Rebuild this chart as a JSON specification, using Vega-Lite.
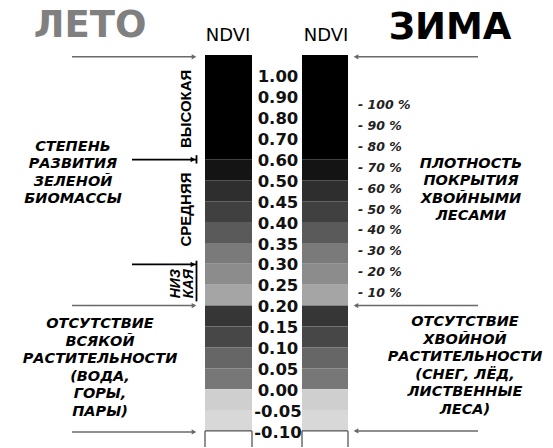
{
  "$schema": "https://vega.github.io/schema/vega-lite/v6.json",
  "width": 553,
  "height": 448,
  "autosize": {"type": "fit", "contains": "padding"},
  "padding": 0,
  "background": "white",
  "config": {"view": {"stroke": null}},
  "encoding": {
    "x": {"field": "x", "type": "quantitative", "scale": {"domain": [0, 553], "nice": false, "zero": false}, "axis": null},
    "y": {"field": "y", "type": "quantitative", "scale": {"domain": [-3.63, 17.77], "nice": false, "zero": false, "reverse": true}, "axis": null}
  },
  "layer": [
    {
      "data": {"values": [
        {"season": "ЛЕТО", "x": 205, "x2": 252, "y": -1.0, "y2": 4, "band": "≥0.60"},
        {"season": "ЛЕТО", "x": 205, "x2": 252, "y": 4, "y2": 5, "band": "0.60–0.50"},
        {"season": "ЛЕТО", "x": 205, "x2": 252, "y": 5, "y2": 6, "band": "0.50–0.45"},
        {"season": "ЛЕТО", "x": 205, "x2": 252, "y": 6, "y2": 7, "band": "0.45–0.40"},
        {"season": "ЛЕТО", "x": 205, "x2": 252, "y": 7, "y2": 8, "band": "0.40–0.35"},
        {"season": "ЛЕТО", "x": 205, "x2": 252, "y": 8, "y2": 9, "band": "0.35–0.30"},
        {"season": "ЛЕТО", "x": 205, "x2": 252, "y": 9, "y2": 10, "band": "0.30–0.25"},
        {"season": "ЛЕТО", "x": 205, "x2": 252, "y": 10, "y2": 11, "band": "0.25–0.20"},
        {"season": "ЛЕТО", "x": 205, "x2": 252, "y": 11, "y2": 12, "band": "0.20–0.15"},
        {"season": "ЛЕТО", "x": 205, "x2": 252, "y": 12, "y2": 13, "band": "0.15–0.10"},
        {"season": "ЛЕТО", "x": 205, "x2": 252, "y": 13, "y2": 14, "band": "0.10–0.05"},
        {"season": "ЛЕТО", "x": 205, "x2": 252, "y": 14, "y2": 15, "band": "0.05–0.00"},
        {"season": "ЛЕТО", "x": 205, "x2": 252, "y": 15, "y2": 16, "band": "0.00–-0.05"},
        {"season": "ЛЕТО", "x": 205, "x2": 252, "y": 16, "y2": 17, "band": "-0.05–-0.10"},
        {"season": "ЗИМА", "x": 302, "x2": 348, "y": -1.0, "y2": 4, "band": "≥0.60"},
        {"season": "ЗИМА", "x": 302, "x2": 348, "y": 4, "y2": 5, "band": "0.60–0.50"},
        {"season": "ЗИМА", "x": 302, "x2": 348, "y": 5, "y2": 6, "band": "0.50–0.45"},
        {"season": "ЗИМА", "x": 302, "x2": 348, "y": 6, "y2": 7, "band": "0.45–0.40"},
        {"season": "ЗИМА", "x": 302, "x2": 348, "y": 7, "y2": 8, "band": "0.40–0.35"},
        {"season": "ЗИМА", "x": 302, "x2": 348, "y": 8, "y2": 9, "band": "0.35–0.30"},
        {"season": "ЗИМА", "x": 302, "x2": 348, "y": 9, "y2": 10, "band": "0.30–0.25"},
        {"season": "ЗИМА", "x": 302, "x2": 348, "y": 10, "y2": 11, "band": "0.25–0.20"},
        {"season": "ЗИМА", "x": 302, "x2": 348, "y": 11, "y2": 12, "band": "0.20–0.15"},
        {"season": "ЗИМА", "x": 302, "x2": 348, "y": 12, "y2": 13, "band": "0.15–0.10"},
        {"season": "ЗИМА", "x": 302, "x2": 348, "y": 13, "y2": 14, "band": "0.10–0.05"},
        {"season": "ЗИМА", "x": 302, "x2": 348, "y": 14, "y2": 15, "band": "0.05–0.00"},
        {"season": "ЗИМА", "x": 302, "x2": 348, "y": 15, "y2": 16, "band": "0.00–-0.05"},
        {"season": "ЗИМА", "x": 302, "x2": 348, "y": 16, "y2": 17, "band": "-0.05–-0.10"}
      ]},
      "mark": {"type": "rect"},
      "encoding": {
        "x2": {"field": "x2"},
        "y2": {"field": "y2"},
        "color": {"field": "band", "type": "nominal", "legend": null,
          "scale": {
            "domain": ["≥0.60", "0.60–0.50", "0.50–0.45", "0.45–0.40", "0.40–0.35", "0.35–0.30", "0.30–0.25", "0.25–0.20", "0.20–0.15", "0.15–0.10", "0.10–0.05", "0.05–0.00", "0.00–-0.05", "-0.05–-0.10"],
            "range": ["#000000", "#141414", "#2e2e2e", "#404040", "#5a5a5a", "#7a7a7a", "#8c8c8c", "#a5a5a5", "#363636", "#474747", "#666666", "#777777", "#cfcfcf", "#d8d8d8"]
          }}
      }
    },
    {
      "data": {"values": [
        {"season": "ЛЕТО", "x": 205, "x2": 252, "y": 17, "y2": 17},
        {"season": "ЛЕТО", "x": 205, "x2": 205, "y": 17, "y2": 17.77},
        {"season": "ЛЕТО", "x": 252, "x2": 252, "y": 17, "y2": 17.77},
        {"season": "ЗИМА", "x": 302, "x2": 348, "y": 17, "y2": 17},
        {"season": "ЗИМА", "x": 302, "x2": 302, "y": 17, "y2": 17.77},
        {"season": "ЗИМА", "x": 348, "x2": 348, "y": 17, "y2": 17.77}
      ]},
      "mark": {"type": "rule", "color": "#555555", "strokeWidth": 1.3},
      "encoding": {"x2": {"field": "x2"}, "y2": {"field": "y2"}}
    },
    {
      "data": {"values": [
        {"x": 72, "x2": 195, "y": -0.91, "y2": -0.91},
        {"x": 478, "x2": 355, "y": -0.91, "y2": -0.91},
        {"x": 72, "x2": 195, "y": 11.0, "y2": 11.0},
        {"x": 478, "x2": 355, "y": 11.0, "y2": 11.0},
        {"x": 72, "x2": 195, "y": 17.05, "y2": 17.05},
        {"x": 478, "x2": 355, "y": 17.0, "y2": 17.0}
      ]},
      "mark": {"type": "rule", "color": "#6a6a6a", "strokeWidth": 1.5},
      "encoding": {"x2": {"field": "x2"}, "y2": {"field": "y2"}}
    },
    {
      "data": {"values": [
        {"x": 194, "y": -0.91, "dir": "right"},
        {"x": 356, "y": -0.91, "dir": "left"},
        {"x": 194, "y": 11.0, "dir": "right"},
        {"x": 356, "y": 11.0, "dir": "left"},
        {"x": 194, "y": 17.05, "dir": "right"},
        {"x": 356, "y": 17.0, "dir": "left"}
      ]},
      "mark": {"type": "point", "filled": true, "color": "#6a6a6a", "size": 28, "opacity": 1},
      "encoding": {"shape": {"field": "dir", "type": "nominal", "legend": null, "scale": {"domain": ["right", "left"], "range": ["triangle-right", "triangle-left"]}}}
    },
    {
      "data": {"values": [
        {"x": 132, "x2": 196, "y": 4.01, "y2": 4.01},
        {"x": 132, "x2": 196, "y": 9.03, "y2": 9.03},
        {"x": 196.5, "x2": 196.5, "y": 3.8, "y2": 4.2},
        {"x": 196.5, "x2": 196.5, "y": 8.85, "y2": 10.8}
      ]},
      "mark": {"type": "rule", "color": "#000000", "strokeWidth": 1.8},
      "encoding": {"x2": {"field": "x2"}, "y2": {"field": "y2"}}
    },
    {
      "data": {"values": [
        {"x": 193, "y": 4.01, "dir": "right"},
        {"x": 193, "y": 9.03, "dir": "right"}
      ]},
      "mark": {"type": "point", "filled": true, "color": "#000000", "size": 30, "opacity": 1, "shape": "triangle-right"}
    },
    {
      "data": {"values": [{"x": 90, "y": -2.39, "text": "ЛЕТО"}]},
      "mark": {"type": "text", "font": "DejaVu Sans", "fontWeight": "bold", "fontSize": 37, "color": "#808080", "align": "center", "baseline": "middle"},
      "encoding": {"text": {"field": "text"}}
    },
    {
      "data": {"values": [{"x": 450, "y": -2.29, "text": "ЗИМА"}]},
      "mark": {"type": "text", "font": "DejaVu Sans", "fontWeight": "bold", "fontSize": 37, "color": "#000000", "align": "center", "baseline": "middle"},
      "encoding": {"text": {"field": "text"}}
    },
    {
      "data": {"values": [{"x": 228, "y": -1.91, "text": "NDVI"}, {"x": 326, "y": -1.91, "text": "NDVI"}]},
      "mark": {"type": "text", "font": "DejaVu Sans", "fontSize": 18, "color": "#000000", "align": "center", "baseline": "middle"},
      "encoding": {"text": {"field": "text"}}
    },
    {
      "data": {"values": [
        {"x": 278, "y": 0.08, "text": "1.00"},
        {"x": 278, "y": 1.08, "text": "0.90"},
        {"x": 278, "y": 2.08, "text": "0.80"},
        {"x": 278, "y": 3.08, "text": "0.70"},
        {"x": 278, "y": 4.08, "text": "0.60"},
        {"x": 278, "y": 5.08, "text": "0.50"},
        {"x": 278, "y": 6.08, "text": "0.45"},
        {"x": 278, "y": 7.08, "text": "0.40"},
        {"x": 278, "y": 8.08, "text": "0.35"},
        {"x": 278, "y": 9.08, "text": "0.30"},
        {"x": 278, "y": 10.08, "text": "0.25"},
        {"x": 278, "y": 11.08, "text": "0.20"},
        {"x": 278, "y": 12.08, "text": "0.15"},
        {"x": 278, "y": 13.08, "text": "0.10"},
        {"x": 278, "y": 14.08, "text": "0.05"},
        {"x": 278, "y": 15.08, "text": "0.00"},
        {"x": 278, "y": 16.08, "text": "-0.05"},
        {"x": 278, "y": 17.08, "text": "-0.10"}
      ]},
      "mark": {"type": "text", "font": "DejaVu Sans", "fontWeight": "bold", "fontSize": 16.5, "color": "#111111", "align": "center", "baseline": "middle"},
      "encoding": {"text": {"field": "text"}}
    },
    {
      "data": {"values": [
        {"x": 358, "y": 1.4, "text": "- 100 %"},
        {"x": 358, "y": 2.4, "text": "- 90 %"},
        {"x": 358, "y": 3.4, "text": "- 80 %"},
        {"x": 358, "y": 4.4, "text": "- 70 %"},
        {"x": 358, "y": 5.4, "text": "- 60 %"},
        {"x": 358, "y": 6.4, "text": "- 50 %"},
        {"x": 358, "y": 7.4, "text": "- 40 %"},
        {"x": 358, "y": 8.4, "text": "- 30 %"},
        {"x": 358, "y": 9.4, "text": "- 20 %"},
        {"x": 358, "y": 10.4, "text": "- 10 %"}
      ]},
      "mark": {"type": "text", "font": "DejaVu Sans", "fontWeight": "bold", "fontStyle": "italic", "fontSize": 12.5, "color": "#222222", "align": "left", "baseline": "middle"},
      "encoding": {"text": {"field": "text"}}
    },
    {
      "data": {"values": [
        {"x": 73, "y": 3.39, "text": "СТЕПЕНЬ\nРАЗВИТИЯ\nЗЕЛЕНОЙ\nБИОМАССЫ"},
        {"x": 471, "y": 4.2, "text": "ПЛОТНОСТЬ\nПОКРЫТИЯ\nХВОЙНЫМИ\nЛЕСАМИ"},
        {"x": 100, "y": 11.89, "text": "ОТСУТСТВИЕ\nВСЯКОЙ\nРАСТИТЕЛЬНОСТИ\n(ВОДА,\nГОРЫ,\nПАРЫ)"},
        {"x": 465, "y": 11.8, "text": "ОТСУТСТВИЕ\nХВОЙНОЙ\nРАСТИТЕЛЬНОСТИ\n(СНЕГ, ЛЁД,\nЛИСТВЕННЫЕ\nЛЕСА)"}
      ]},
      "mark": {"type": "text", "font": "DejaVu Sans", "fontWeight": "bold", "fontStyle": "italic", "fontSize": 14.5, "lineHeight": 17.5, "lineBreak": "\n", "color": "#000000", "align": "center", "baseline": "middle"},
      "encoding": {"text": {"field": "text"}}
    },
    {
      "data": {"values": [
        {"x": 186, "y": 1.58, "text": "ВЫСОКАЯ"},
        {"x": 186, "y": 6.4, "text": "СРЕДНЯЯ"}
      ]},
      "mark": {"type": "text", "font": "Liberation Sans", "fontWeight": "bold", "fontSize": 15, "angle": 270, "color": "#000000", "align": "center", "baseline": "middle"},
      "encoding": {"text": {"field": "text"}}
    },
    {
      "data": {"values": [
        {"x": 176, "y": 9.95, "text": "НИЗ"},
        {"x": 189, "y": 9.95, "text": "КАЯ"}
      ]},
      "mark": {"type": "text", "font": "Liberation Sans", "fontWeight": "bold", "fontStyle": "italic", "fontSize": 14, "angle": 270, "color": "#000000", "align": "center", "baseline": "middle"},
      "encoding": {"text": {"field": "text"}}
    }
  ]
}
